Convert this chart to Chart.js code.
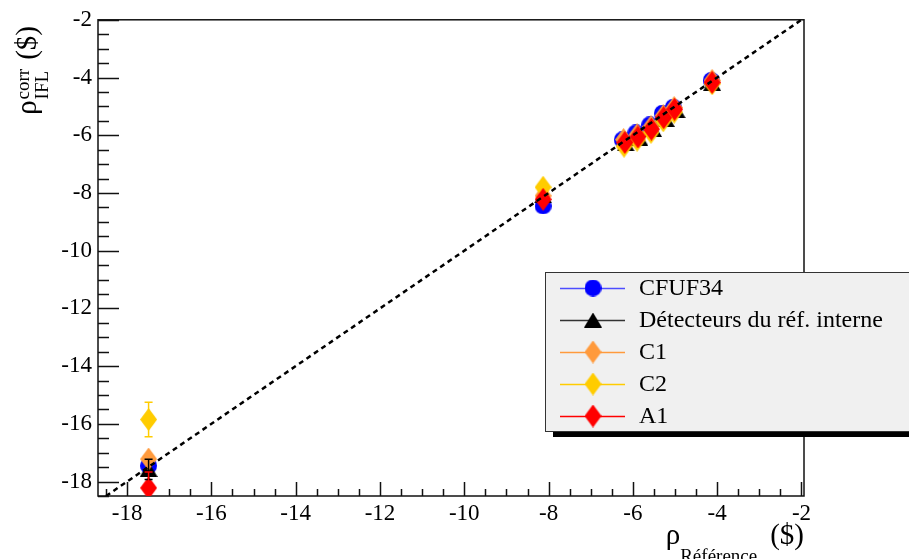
<!DOCTYPE html>
<html lang="fr">
<head>
    <meta charset="UTF-8">
    <title>rho IFL corr vs rho reference</title>
    <script src="https://cdn.jsdelivr.net/npm/chart.js@4"></script>
    <style>
        html, body { margin: 0; padding: 0; background: #fff; }
    </style>
</head>
<body>
    <canvas id="chart" width="909" height="559"></canvas>

    <script>
        // rho reference ($) on x, rho IFL corr ($) on y, one pair of arrays per detector
        const cfufX = [-17.49, -8.13, -6.25, -5.93, -5.60, -5.30, -5.04, -4.14];
        const cfufY = [-17.45, -8.45, -6.16, -5.92, -5.64, -5.24, -5.03, -4.10];

        const detX = [-17.49, -8.13, -6.17, -5.85, -5.52, -5.22, -4.96, -4.12];
        const detY = [-17.58, -8.10, -6.30, -6.10, -5.80, -5.45, -5.15, -4.20];
        const detErr = [0.35, 0, 0, 0, 0, 0, 0, 0];

        const c1X = [-17.49, -8.13, -6.22, -5.90, -5.57, -5.28, -5.02, -4.12];
        const c1Y = [-17.22, -8.10, -6.15, -5.98, -5.70, -5.32, -5.04, -4.10];

        const c2X = [-17.49, -8.13, -6.21, -5.90, -5.57, -5.28, -5.02, -4.12];
        const c2Y = [-15.85, -7.80, -6.38, -6.17, -5.90, -5.50, -5.20, -4.22];
        const c2Err = [0.6, 0, 0, 0, 0, 0, 0, 0];

        const a1X = [-17.49, -8.13, -6.19, -5.88, -5.56, -5.27, -5.01, -4.12];
        const a1Y = [-18.22, -8.22, -6.25, -6.06, -5.79, -5.39, -5.10, -4.17];
        const a1Err = [0.55, 0, 0, 0, 0, 0, 0, 0];

        // y = x reference line
        const diagX = [-18.5, -2];

        const serif = 'Liberation Serif, Times New Roman, serif';

        function pts(xs, ys) {
            return xs.map((x, i) => ({ x: x, y: ys[i] }));
        }

        // ROOT-like markers drawn once on small canvases
        function diamond(color, w, h) {
            const c = document.createElement('canvas');
            c.width = w; c.height = h;
            const g = c.getContext('2d');
            g.fillStyle = color;
            g.beginPath();
            g.moveTo(w / 2, 0); g.lineTo(w, h / 2); g.lineTo(w / 2, h); g.lineTo(0, h / 2);
            g.closePath(); g.fill();
            return c;
        }
        function circle(color, d) {
            const c = document.createElement('canvas');
            c.width = d; c.height = d;
            const g = c.getContext('2d');
            g.fillStyle = color;
            g.beginPath(); g.arc(d / 2, d / 2, d / 2, 0, Math.PI * 2); g.fill();
            return c;
        }
        function triangle(color, w, h) {
            const c = document.createElement('canvas');
            c.width = w; c.height = h;
            const g = c.getContext('2d');
            g.fillStyle = color;
            g.beginPath(); g.moveTo(w / 2, 0); g.lineTo(w, h); g.lineTo(0, h); g.closePath(); g.fill();
            return c;
        }

        const series = [
            { label: 'CFUF34', xs: cfufX, ys: cfufY, err: null, color: '#0000ff', line: '#4d4dff', marker: circle('#0000ff', 17), order: 5 },
            { label: 'Détecteurs du réf. interne', xs: detX, ys: detY, err: detErr, color: '#000000', line: '#333333', marker: triangle('#000000', 18, 15), order: 4 },
            { label: 'C1', xs: c1X, ys: c1Y, err: null, color: '#ff9a3c', line: '#ff9a3c', marker: diamond('#ff9a3c', 17, 23), order: 3 },
            { label: 'C2', xs: c2X, ys: c2Y, err: c2Err, color: '#ffcc00', line: '#ffcc00', marker: diamond('#ffcc00', 17, 23), order: 2 },
            { label: 'A1', xs: a1X, ys: a1Y, err: a1Err, color: '#ff0000', line: '#ff0000', marker: diamond('#ff0000', 17, 23), order: 1 }
        ];

        const datasets = series.map(s => ({
            type: 'scatter',
            label: s.label,
            data: pts(s.xs, s.ys),
            pointStyle: s.marker,
            pointRadius: 5,
            backgroundColor: s.color,
            borderColor: s.color,
            order: s.order,
            errY: s.err,
            legendLine: s.line
        }));

        datasets.push({
            type: 'line',
            label: 'y = x',
            data: pts(diagX, diagX),
            borderColor: '#000',
            borderWidth: 2.5,
            borderDash: [5, 4],
            pointRadius: 0,
            fill: false,
            order: 0
        });

        // frame and inward ticks, like ROOT
        const framePlugin = {
            id: 'frame',
            beforeDatasetsDraw(chart) {
                const { ctx, chartArea: a, scales: { x, y } } = chart;
                ctx.save();
                ctx.strokeStyle = '#111';
                ctx.lineWidth = 1.5;
                ctx.strokeRect(a.left, a.top, a.right - a.left, a.bottom - a.top);
                ctx.beginPath();
                for (let v = -18.5; v <= -2 + 0.001; v += 0.5) {
                    const px = Math.round(x.getPixelForValue(v)) + 0.5;
                    const len = Math.abs(v % 2) < 1e-6 ? 14 : 7;
                    ctx.moveTo(px, a.bottom); ctx.lineTo(px, a.bottom - len);
                }
                for (let v = -18.5; v <= -2 + 0.001; v += 0.5) {
                    const py = Math.round(y.getPixelForValue(v)) + 0.5;
                    const len = Math.abs(v % 2) < 1e-6 ? 21 : 11;
                    ctx.moveTo(a.left, py); ctx.lineTo(a.left + len, py);
                }
                ctx.stroke();
                ctx.restore();
            }
        };

        // vertical error bars with caps
        const errorPlugin = {
            id: 'errors',
            afterDatasetsDraw(chart) {
                const { ctx, chartArea: a, scales: { x, y } } = chart;
                ctx.save();
                ctx.beginPath();
                ctx.rect(a.left, a.top, a.right - a.left, a.bottom - a.top);
                ctx.clip();
                chart.data.datasets.forEach(ds => {
                    if (!ds.errY) return;
                    ctx.strokeStyle = ds.borderColor;
                    ctx.lineWidth = 1.5;
                    ds.data.forEach((p, i) => {
                        const e = ds.errY[i];
                        if (!e) return;
                        const px = x.getPixelForValue(p.x);
                        const top = y.getPixelForValue(p.y + e);
                        const bot = y.getPixelForValue(p.y - e);
                        ctx.beginPath();
                        ctx.moveTo(px, top); ctx.lineTo(px, bot);
                        ctx.moveTo(px - 4, top); ctx.lineTo(px + 4, top);
                        ctx.moveTo(px - 4, bot); ctx.lineTo(px + 4, bot);
                        ctx.stroke();
                    });
                });
                ctx.restore();
            }
        };

        // legend box and axis titles
        const decorPlugin = {
            id: 'decor',
            afterDraw(chart) {
                const ctx = chart.ctx;
                ctx.save();

                // legend with shadow
                ctx.fillStyle = '#000';
                ctx.fillRect(553, 277, 400, 160);
                ctx.fillStyle = '#f0f0f0';
                ctx.fillRect(545, 272.5, 400, 159);
                ctx.strokeStyle = '#333';
                ctx.lineWidth = 1;
                ctx.strokeRect(545.5, 272.5, 400, 159);

                const rows = [288, 320, 352, 384, 416];
                ctx.font = '24px ' + serif;
                ctx.textBaseline = 'middle';
                ctx.textAlign = 'left';
                chart.data.datasets.filter(d => d.type === 'scatter').forEach((d, i) => {
                    const ry = rows[i];
                    ctx.strokeStyle = d.legendLine;
                    ctx.lineWidth = 1.5;
                    ctx.beginPath(); ctx.moveTo(560, ry + 0.5); ctx.lineTo(625, ry + 0.5); ctx.stroke();
                    const m = d.pointStyle;
                    ctx.drawImage(m, 593 - m.width / 2, ry - m.height / 2);
                    ctx.fillStyle = '#000';
                    ctx.fillText(d.label, 639, ry + 1);
                });

                ctx.fillStyle = '#000';
                ctx.textBaseline = 'alphabetic';

                // x title: rho_{Référence} ($), right aligned to the axis end
                const big = '29px ' + serif, small = '19px ' + serif;
                ctx.font = big;
                const wDollar = ctx.measureText('($)').width;
                const wRho = ctx.measureText('ρ').width;
                ctx.font = small;
                const wRef = ctx.measureText('Référence').width;
                const xEnd = 804;
                const xDollar = xEnd - wDollar;
                const xRef = xDollar - 13 - wRef;
                ctx.font = big;
                ctx.fillText('ρ', xRef - wRho, 544);
                ctx.fillText('($)', xDollar, 544);
                ctx.font = small;
                ctx.fillText('Référence', xRef, 562);

                // y title: rho^{corr}_{IFL} ($), rotated, ending near the top of the axis
                ctx.translate(36, 26);
                ctx.rotate(-Math.PI / 2);
                ctx.font = '19px ' + serif;
                const wSup = ctx.measureText('corr').width;
                const wSub = ctx.measureText('IFL').width;
                const wS = Math.max(wSup, wSub);
                ctx.font = big;
                const wD = ctx.measureText('($)').width;
                const start = -(wRho + 1 + wS + 9 + wD);
                ctx.fillText('ρ', start, 0);
                ctx.fillText('($)', start + wRho + 1 + wS + 9, 0);
                ctx.font = '19px ' + serif;
                ctx.fillText('corr', start + wRho + 1, -7);
                ctx.fillText('IFL', start + wRho + 1, 12);

                ctx.restore();
            }
        };

        const tickFont = { family: serif, size: 23 };
        const evenLabel = v => (Math.abs(v % 2) < 1e-6 ? String(v) : '');

        new Chart(document.getElementById('chart'), {
            type: 'scatter',
            data: { datasets: datasets },
            options: {
                responsive: false,
                animation: false,
                layout: { padding: { top: 17, right: 105, left: 0, bottom: 0 } },
                plugins: {
                    legend: { display: false },
                    tooltip: { enabled: false }
                },
                scales: {
                    x: {
                        type: 'linear',
                        min: -18.69,
                        max: -1.94,
                        afterFit: s => { s.height = 63; },
                        grid: { display: false, drawTicks: false },
                        border: { display: false },
                        ticks: {
                            stepSize: 2, includeBounds: false, autoSkip: false, maxRotation: 0,
                            padding: 4, color: '#000', font: tickFont, callback: evenLabel
                        }
                    },
                    y: {
                        type: 'linear',
                        min: -18.5,
                        max: -2,
                        afterFit: s => { s.width = 98; },
                        grid: { display: false, drawTicks: false },
                        border: { display: false },
                        ticks: {
                            stepSize: 2, includeBounds: false, autoSkip: false,
                            padding: 6, color: '#000', font: tickFont, callback: evenLabel
                        }
                    }
                }
            },
            plugins: [framePlugin, errorPlugin, decorPlugin]
        });
    </script>
</body>
</html>
